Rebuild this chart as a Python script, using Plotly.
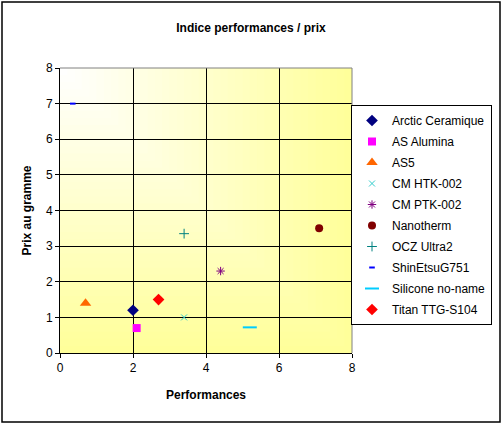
import plotly.graph_objs as go

# product names and readings
products = ['Arctic Ceramique', 'AS Alumina', 'AS5', 'CM HTK-002', 'CM PTK-002',
            'Nanotherm', 'OCZ Ultra2', 'ShinEtsuG751', 'Silicone no-name', 'Titan TTG-S104']
performances = [2.0, 2.1, 0.7, 3.4, 4.4, 7.1, 3.4, 0.35, 5.2, 2.7]
prix_gramme = [1.2, 0.7, 1.4, 1.0, 2.3, 3.5, 3.35, 7.0, 0.72, 1.5]

colors = ['#000080', '#FF00FF', '#FF6600', '#33CCCC', '#800080',
          '#800000', '#008080', '#0000FF', '#00CCFF', '#FF0000']
symbols = ['diamond', 'square', 'triangle-up', 'x-thin', 'asterisk',
           'circle', 'cross-thin', 'line-ew', 'line-ew', 'diamond']
sizes = [9, 8, 10, 6, 7, 8, 7, 4, 10, 9]
line_widths = [0, 0, 0, 1, 1, 0, 1, 2, 2, 0]

font = 'Liberation Sans, Arial, sans-serif'

data = []
for name, x, y, c, s, sz, lw in zip(products, performances, prix_gramme, colors,
                                     symbols, sizes, line_widths):
    data.append(go.Scatter(x=[x], y=[y], name=name, legendgroup=name, mode='markers',
                           marker=dict(symbol=s, size=sz, color=c,
                                       line=dict(color=c, width=lw))))

# "from corner" gradient of the plot area: white top-left to pale yellow,
# drawn as nested rectangles anchored on the top-left corner (below the grid)
steps = 40
shapes = []
for k in range(steps, 0, -1):
    t = (k - 0.5) / steps
    blue = round(255 - (255 - 153) * t)
    shapes.append(dict(type='rect', xref='x', yref='y', x0=0, x1=8 * k / steps,
                       y0=8 - 8 * k / steps, y1=8, layer='below',
                       fillcolor='rgb(255,255,%d)' % blue, line=dict(width=0)))

shapes += [
    # plot area border (top and right in grey)
    dict(type='line', xref='paper', yref='paper', x0=0, x1=1, y0=1, y1=1,
         line=dict(color='#808080', width=1), layer='above'),
    dict(type='line', xref='paper', yref='paper', x0=1, x1=1, y0=0, y1=1,
         line=dict(color='#808080', width=1), layer='above'),
    # chart frame
    dict(type='rect', xref='paper', yref='paper',
         x0=(2 - 60) / 292, x1=(500 - 60) / 292,
         y0=(353 - 422) / 285, y1=(353 - 2) / 285,
         line=dict(color='black', width=1.5)),
]

axis_style = dict(range=[0, 8], showgrid=True, gridcolor='black', gridwidth=1,
                  zeroline=False, showline=True, linecolor='black', linewidth=1,
                  ticks='outside', ticklen=4, tickcolor='black',
                  tickfont=dict(family=font, size=12, color='black'))

fig = go.Figure(data=data)
fig.update_layout(
    width=504, height=425,
    margin=dict(l=60, r=152, t=68, b=72, autoexpand=False),
    paper_bgcolor='white', plot_bgcolor='white',
    font=dict(family=font, size=12, color='black'),
    title=dict(text='<b>Indice performances / prix</b>', x=0.498, xanchor='center',
               y=1 - 28 / 425, yanchor='middle', font=dict(size=12)),
    xaxis=dict(axis_style, dtick=2,
               title=dict(text='<b>Performances</b>', standoff=16, font=dict(size=12))),
    yaxis=dict(axis_style, dtick=1,
               title=dict(text='<b>Prix au gramme</b>', standoff=11, font=dict(size=12))),
    legend=dict(x=(492 - 60) / 292, y=(353 - 105) / 285, xanchor='right', yanchor='top',
                bordercolor='black', borderwidth=1, bgcolor='white',
                font=dict(size=12), itemwidth=30, tracegroupgap=2),
    shapes=shapes,
)

# drop the page's default body margin so the chart sits at the window origin
fig.write_html('out.html', config={'displayModeBar': False},
               post_script="document.body.style.margin='0px';")
